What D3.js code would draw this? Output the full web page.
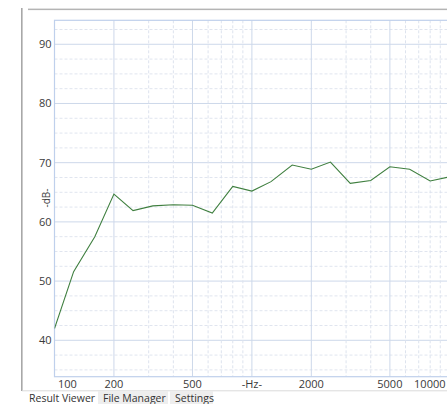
<!DOCTYPE html>
<html><head><meta charset="utf-8">
<script src="https://cdn.jsdelivr.net/npm/d3@7"></script>
<style>html,body{margin:0;padding:0;background:#fff;overflow:hidden}svg{display:block}</style>
</head><body>
<svg id="c" width="447" height="404"></svg>
<script>
const freqs  = [100,125,160,200,250,315,400,500,630,800,1000,1250,1600,2000,2500,3150,4000,5000,6300,8000,10000];
const levels = [42.0,51.6,57.5,64.7,61.9,62.7,62.9,62.8,61.5,66.0,65.2,66.8,69.6,68.9,70.1,66.5,67.0,69.3,68.9,66.9,67.6];
const yTicks = [40,50,60,70,80,90];
const xTickValues = [100,200,500,1000,2000,5000,10000];
const xTickLabels = ["100","200","500","-Hz-","2000","5000","10000"];
const xGrid = [200,300,400,500,600,700,800,900,1000,2000,3000,4000,5000,6000,7000,8000,9000,10000];
const yGrid = d3.range(35, 93, 2.5);
const tabs = ["Result Viewer","File Manager","Settings"];

const svg = d3.select("#c");
const L = 54.5, T = 20.3, B = 376.7;
const x = d3.scaleLog().domain([100, 10000]).range([L, L + 197.4*2]);
const y = d3.scaleLinear().domain([33.85, 94.05]).range([B, T]);
const font = "'Open Sans', 'Noto Sans', sans-serif";

// window chrome
svg.append("rect").attr("x",21).attr("y",8).attr("width",1.6).attr("height",383).attr("fill","#a8a8a8");
svg.append("rect").attr("x",28).attr("y",8.6).attr("width",430).attr("height",1.5).attr("fill","#b4b4b4");

const g = svg.append("g");
g.append("defs").append("clipPath").attr("id","pc").append("rect")
  .attr("x",L).attr("y",T).attr("width",500).attr("height",B-T);

// grid
yGrid.forEach(v => {
  const major = v % 10 === 0;
  g.append("line").attr("x1",L).attr("x2",460).attr("y1",y(v)).attr("y2",y(v))
    .attr("stroke", major ? "#cdd8ea" : "#e0e5ef").attr("stroke-width",1)
    .attr("stroke-dasharray", major ? null : "3,2");
});
xGrid.forEach(v => {
  const major = xTickValues.includes(v);
  g.append("line").attr("x1",x(v)).attr("x2",x(v)).attr("y1",T).attr("y2",B)
    .attr("stroke", major ? "#cdd8ea" : "#dde3ee").attr("stroke-width",1)
    .attr("stroke-dasharray", major ? null : "3,2");
});
// frame
g.append("rect").attr("x",L).attr("y",T).attr("width",460).attr("height",B-T)
  .attr("fill","none").attr("stroke","#bfd0ec").attr("stroke-width",1.2);

// y axis labels
yTicks.forEach(v => {
  g.append("text").attr("x",51.5).attr("y",y(v)).attr("dy","0.35em")
    .attr("text-anchor","end").attr("font-family",font).attr("font-size",11).attr("fill","#3a3a3a").text(v);
});
g.append("text").attr("transform","translate(50,198) rotate(-90)")
  .attr("text-anchor","middle").attr("font-family",font).attr("font-size",10).attr("fill","#444").text("-dB-");

// x axis labels
xTickValues.forEach((v,i) => {
  let px = x(v), anchor = "middle";
  if (i === 0) { px = px + 3.5; anchor = "start"; }
  if (i === xTickValues.length-1) { px = Math.min(px, 445.5); anchor = "end"; }
  g.append("text").attr("x",px).attr("y",387.5).attr("text-anchor",anchor)
    .attr("font-family",font).attr("font-size",11).attr("fill","#3a3a3a").text(xTickLabels[i]);
});

// data line
const line = d3.line().x((d,i)=>x(freqs[i])).y(d=>y(d));
g.append("path").datum(levels).attr("d",line).attr("clip-path","url(#pc)")
  .attr("fill","none").attr("stroke","#3f7f3f").attr("stroke-width",1.1);

// tabs
svg.append("line").attr("x1",22).attr("x2",447).attr("y1",390.8).attr("y2",390.8).attr("stroke","#dadada");
const tabX = [[22,97],[98,168],[170,213]];
tabs.forEach((t,i) => {
  if (i>0) svg.append("rect").attr("x",tabX[i][0]).attr("y",391).attr("width",tabX[i][1]-tabX[i][0]).attr("height",14).attr("fill","#eeeeee");
  svg.append("text").attr("x",tabX[i][0]+(i===0?7:5)).attr("y",401.5).attr("font-family",font)
    .attr("font-size",10.5).attr("fill","#333").text(t);
});
</script>
</body></html>
